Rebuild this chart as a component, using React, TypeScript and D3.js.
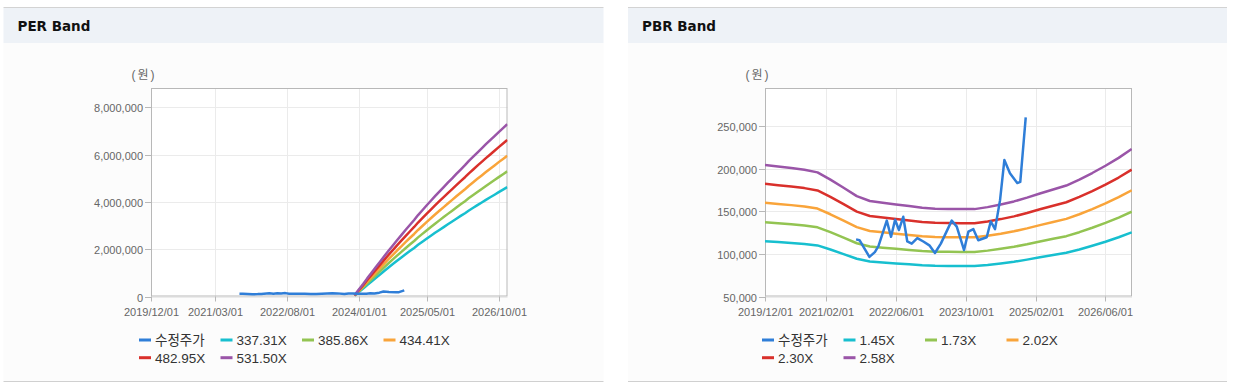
import React from 'react';
import * as d3 from 'd3';

// 수정주가 (adjusted price), shared by both panels
const PRICE_DATES = [
  '2021-08-27', '2021-09-20', '2021-11-28', '2022-01-05', '2022-01-30', '2022-03-29',
  '2022-04-28', '2022-05-26', '2022-06-22', '2022-07-22', '2022-08-19', '2022-09-19',
  '2022-10-28', '2022-12-09', '2023-01-20', '2023-02-28', '2023-04-10', '2023-06-25',
  '2023-07-30', '2023-09-19', '2023-10-19', '2023-11-23', '2023-12-27', '2024-02-24',
  '2024-03-23', '2024-04-22', '2024-05-27', '2024-06-26', '2024-08-04', '2024-09-24',
  '2024-10-15', '2024-11-22',
];
const PRICE_VALUES = [
  117000, 116000, 96500, 102000, 109000, 139000,
  120000, 140000, 128000, 143500, 114500, 112000,
  118500, 114500, 110000, 101000, 112000, 139000,
  132000, 104500, 126000, 129000, 116000, 119500,
  138000, 129000, 163000, 210000, 194500, 183000,
  184500, 260000,
];

// EPS used by the PER band (monthly)
const EPS_DATES = [
  '2023-12-01', '2024-01-01', '2024-02-01', '2024-03-01', '2024-04-01', '2024-05-01',
  '2024-06-01', '2024-07-01', '2024-08-01', '2024-09-01', '2024-10-01', '2024-11-01',
  '2024-12-01', '2025-01-01', '2025-02-01', '2025-03-01', '2025-04-01', '2025-05-01',
  '2025-06-01', '2025-07-01', '2025-08-01', '2025-09-01', '2025-10-01', '2025-11-01',
  '2025-12-01', '2026-01-01', '2026-02-01', '2026-03-01', '2026-04-01', '2026-05-01',
  '2026-06-01', '2026-07-01', '2026-08-01', '2026-09-01', '2026-10-01', '2026-11-01',
  '2026-12-01',
];
const EPS_VALUES = [
  100, 550, 998, 1444, 1888, 2330,
  2770, 3208, 3644, 4064, 4479, 4889,
  5294, 5694, 6089, 6479, 6864, 7244,
  7619, 7984, 8346, 8704, 9059, 9411,
  9760, 10106, 10449, 10789, 11126, 11460,
  11791, 12119, 12444, 12766, 13085, 13401,
  13714,
];

// BPS used by the PBR band (quarterly)
const BPS_DATES = [
  '2019-12-01', '2020-03-01', '2020-06-01', '2020-09-01', '2020-12-01', '2021-03-01',
  '2021-06-01', '2021-09-01', '2021-12-01', '2022-03-01', '2022-06-01', '2022-09-01',
  '2022-12-01', '2023-03-01', '2023-06-01', '2023-09-01', '2023-12-01', '2024-03-01',
  '2024-06-01', '2024-09-01', '2024-12-01', '2025-03-01', '2025-06-01', '2025-09-01',
  '2025-12-01', '2026-03-01', '2026-06-01', '2026-09-01', '2026-12-01',
];
const BPS_VALUES = [
  79200, 78500, 77800, 77000, 75800, 72500,
  68800, 65000, 62800, 62000, 61200, 60500,
  59700, 59300, 59200, 59100, 59100, 60000,
  61200, 62600, 64300, 66200, 68000, 69800,
  72500, 75500, 78800, 82400, 86400,
];

const PER_MULTIPLES = [337.31, 385.86, 434.41, 482.95, 531.5];
const PBR_MULTIPLES = [1.45, 1.73, 2.02, 2.3, 2.58];
const PRICE_LABEL = '수정주가';

const PER_X_TICKS = ['2019/12/01', '2021/03/01', '2022/08/01', '2024/01/01', '2025/05/01', '2026/10/01'];
const PBR_X_TICKS = ['2019/12/01', '2021/02/01', '2022/06/01', '2023/10/01', '2025/02/01', '2026/06/01'];
const PER_Y_TICKS = [0, 2000000, 4000000, 6000000, 8000000];
const PBR_Y_TICKS = [50000, 100000, 150000, 200000, 250000];

const COLORS = ['#2f7ed8', '#17bfcf', '#93c452', '#f9a43a', '#d9302b', '#9a55a8'];

const X_START = '2019-12-01';
const X_END = '2026-12-03';

const FONT = "'Liberation Sans', Arial, 'Noto Sans CJK KR', sans-serif";

const parseDash = d3.timeParse('%Y-%m-%d');
const parseSlash = d3.timeParse('%Y/%m/%d');
const fmt = d3.format(',');

type BandProps = {
  panelX: number;
  panelW: number;
  title: string;
  left: number;
  right: number;
  yMax: number;
  yMin: number;
  yTicks: number[];
  xTicks: string[];
  baseDates: string[];
  baseValues: number[];
  multiples: number[];
  legendX: number;
  clipId: string;
};

const Band = (p: BandProps) => {
  const top = 88, bottom = 296.5;
  const x = d3.scaleTime()
    .domain([parseDash(X_START)!, parseDash(X_END)!])
    .range([p.left, p.right]);
  const y = d3.scaleLinear().domain([p.yMin, p.yMax]).range([bottom, top]);

  const line = d3.line<[Date, number]>()
    .x(d => x(d[0]))
    .y(d => y(d[1]));

  const price: [Date, number][] = PRICE_DATES.map((d, i) => [parseDash(d)!, PRICE_VALUES[i]]);
  const bands = p.multiples.map(m =>
    p.baseDates.map((d, i) => [parseDash(d)!, p.baseValues[i] * m] as [Date, number]));

  const labels = [PRICE_LABEL, ...p.multiples.map(m => m.toFixed(2) + 'X')];

  return (
    <g>
      {/* panel */}
      <rect x={p.panelX} y={43} width={p.panelW} height={338} fill="#fcfcfc" />
      <rect x={p.panelX} y={8} width={p.panelW} height={35} fill="#eef2f7" />
      <line x1={p.panelX} x2={p.panelX + p.panelW} y1={7.5} y2={7.5} stroke="#d3d3d3" />
      <line x1={p.panelX} x2={p.panelX + p.panelW} y1={381.5} y2={381.5} stroke="#d0d0d0" />
      <text x={p.panelX + 14} y={31} fontFamily="'DejaVu Sans', Verdana, sans-serif"
        fontWeight="bold" fontSize={13.5} fill="#111">{p.title}</text>

      <rect x={p.left} y={top} width={p.right - p.left} height={bottom - top} fill="#fff" />

      {/* grid */}
      {p.yTicks.map(t => (
        <line key={'gy' + t} x1={p.left} x2={p.right} y1={Math.round(y(t)) + 0.5}
          y2={Math.round(y(t)) + 0.5} stroke="#ebebeb" />
      ))}
      {p.xTicks.map(t => {
        const xx = Math.round(x(parseSlash(t)!)) + 0.5;
        return <line key={'gx' + t} x1={xx} x2={xx} y1={top} y2={bottom} stroke="#ebebeb" />;
      })}

      {/* frame */}
      <rect x={p.left + 0.5} y={top + 0.5} width={p.right - p.left - 1} height={bottom - top - 1}
        fill="none" stroke="#b8b8b8" />

      {/* y axis */}
      {p.yTicks.map(t => {
        const yy = Math.round(y(t)) + 0.5;
        return (
          <g key={'y' + t}>
            <line x1={p.left - 6} x2={p.left} y1={yy} y2={yy} stroke="#b8b8b8" />
            <text x={p.left - 8} y={yy + 4} textAnchor="end" fontFamily={FONT} fontSize={11}
              fill="#666">{fmt(t)}</text>
          </g>
        );
      })}
      <text x={p.left - 7} y={79} textAnchor="middle" fontFamily={FONT} fontSize={12} fill="#666"
        letterSpacing={2}>(원)</text>

      {/* x axis */}
      {p.xTicks.map(t => {
        const xx = Math.round(x(parseSlash(t)!)) + 0.5;
        return (
          <g key={'x' + t}>
            <line x1={xx} x2={xx} y1={bottom} y2={bottom + 5} stroke="#b8b8b8" />
            <text x={xx} y={316} textAnchor="middle" fontFamily={FONT} fontSize={11}
              fill="#666">{t}</text>
          </g>
        );
      })}

      {/* series */}
      <defs>
        <clipPath id={p.clipId}>
          <rect x={p.left} y={top} width={p.right - p.left} height={bottom - top} />
        </clipPath>
      </defs>
      <g clipPath={`url(#${p.clipId})`} fill="none" strokeWidth={2.5} strokeLinejoin="round">
        {bands.map((b, i) => (
          <path key={'b' + i} d={line(b) || ''} stroke={COLORS[i + 1]} />
        ))}
        <path d={line(price) || ''} stroke={COLORS[0]} />
      </g>

      {/* legend */}
      {labels.map((l, i) => {
        const lx = p.legendX + (i % 4) * 81.5;
        const ly = 340 + Math.floor(i / 4) * 17.7;
        return (
          <g key={'l' + i}>
            <line x1={lx} x2={lx + 12} y1={ly} y2={ly} stroke={COLORS[i]} strokeWidth={3} />
            <text x={lx + 16} y={ly + 5} fontFamily={FONT} fontSize={13.5} fill="#333">{l}</text>
          </g>
        );
      })}
    </g>
  );
};

export default function App() {
  return (
    <svg width={1239} height={389} style={{ position: 'absolute', left: 0, top: 0, background: '#fff' }}>
      <Band panelX={3.5} panelW={600} title="PER Band" left={151} right={507.5}
        yMin={0} yMax={8820000} yTicks={PER_Y_TICKS} xTicks={PER_X_TICKS}
        baseDates={EPS_DATES} baseValues={EPS_VALUES} multiples={PER_MULTIPLES}
        legendX={139} clipId="clip-per" />
      <Band panelX={628} panelW={599} title="PBR Band" left={765} right={1132}
        yMin={50000} yMax={294500} yTicks={PBR_Y_TICKS} xTicks={PBR_X_TICKS}
        baseDates={BPS_DATES} baseValues={BPS_VALUES} multiples={PBR_MULTIPLES}
        legendX={762} clipId="clip-pbr" />
    </svg>
  );
}
